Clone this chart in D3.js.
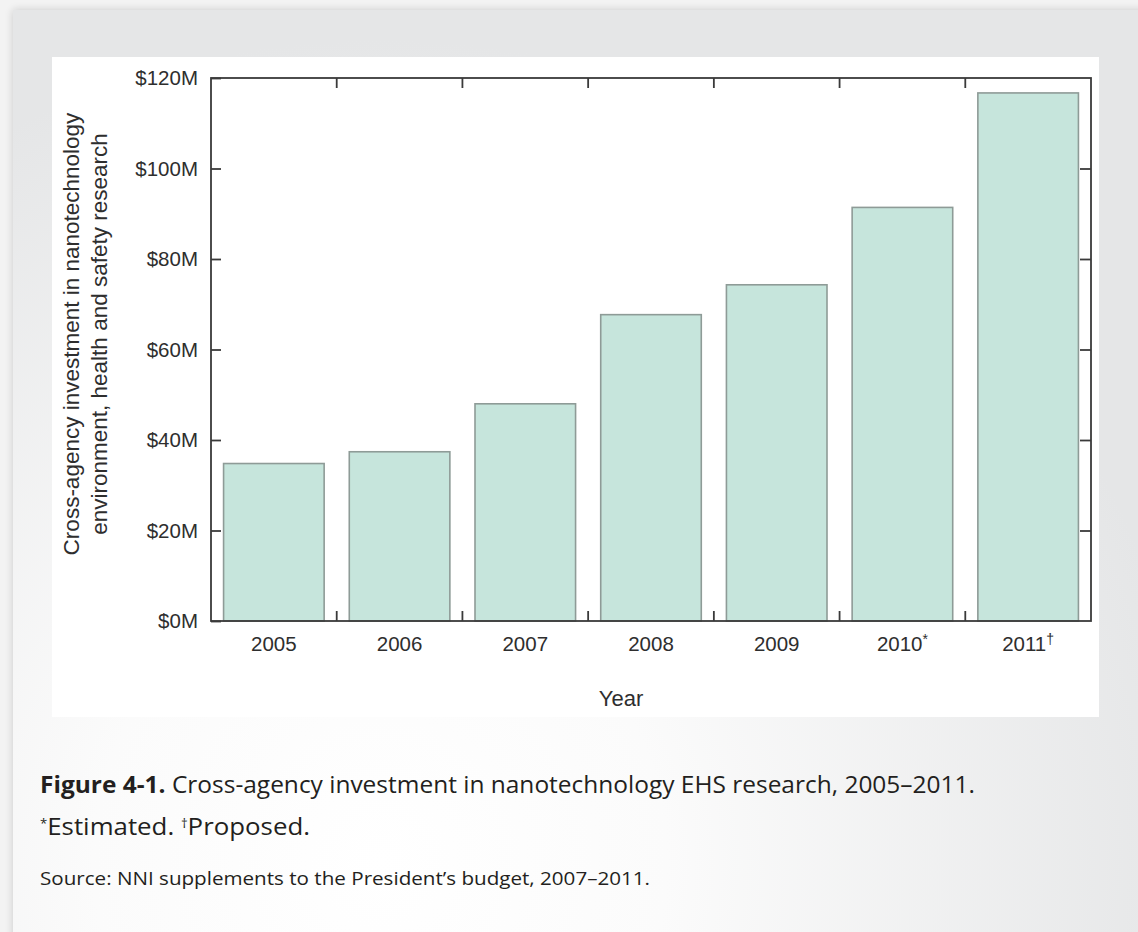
<!DOCTYPE html>
<html>
<head>
<meta charset="utf-8">
<script src="https://cdn.jsdelivr.net/npm/d3@7"></script>
<style>
  html, body { margin: 0; padding: 0; background: #f3f3f3; }
  svg { display: block; }
</style>
</head>
<body>
<svg id="chart" width="1138" height="932"></svg>
<script>
// ---- data ----
const years = ["2005", "2006", "2007", "2008", "2009", "2010", "2011"];
const yearMarks = ["", "", "", "", "", "*", "†"];
const investment = [34.8, 37.4, 48.0, 67.7, 74.3, 91.4, 116.7]; // $M
const yTicks = [0, 20, 40, 60, 80, 100, 120];
const yTitleLines = ["Cross-agency investment in nanotechnology", "environment, health and safety research"];
const xTitle = "Year";
const captionBold = "Figure 4-1.";
const captionText = " Cross-agency investment in nanotechnology EHS research, 2005–2011.";
const noteText = ["*", "Estimated. ", "†", "Proposed."];
const sourceText = "Source: NNI supplements to the President’s budget, 2007–2011.";

(function () {
const svg = d3.select("#chart");
const defs = svg.append("defs");

const rg = defs.append("radialGradient").attr("id", "cardGrad")
  .attr("gradientUnits", "userSpaceOnUse")
  .attr("cx", 380).attr("cy", 860).attr("r", 820);
rg.append("stop").attr("offset", "0").attr("stop-color", "#ffffff");
rg.append("stop").attr("offset", "0.35").attr("stop-color", "#fbfbfb");
rg.append("stop").attr("offset", "1").attr("stop-color", "#e5e6e7");

const sh = defs.append("filter").attr("id", "shadow").attr("x", "-5%").attr("y", "-5%").attr("width", "110%").attr("height", "110%");
sh.append("feGaussianBlur").attr("in", "SourceAlpha").attr("stdDeviation", 4);
sh.append("feComponentTransfer").append("feFuncA").attr("type", "linear").attr("slope", 0.18);
const mg = sh.append("feMerge");
mg.append("feMergeNode");
mg.append("feMergeNode").attr("in", "SourceGraphic");

// card
svg.append("rect").attr("x", 13).attr("y", 10).attr("width", 1160).attr("height", 960)
  .attr("fill", "url(#cardGrad)").attr("filter", "url(#shadow)");
// white chart panel
svg.append("rect").attr("x", 52).attr("y", 57).attr("width", 1047).attr("height", 660).attr("fill", "#ffffff");

// ---- scales ----
const pLeft = 211, pRight = 1091, pTop = 78, pBottom = 621;
const x = d3.scaleBand().domain(years).range([pLeft, pRight]).paddingInner(0.2).paddingOuter(0.1);
const y = d3.scaleLinear().domain([0, 120]).range([pBottom, pTop]);

const axisFont = "'Liberation Sans', Arial, Helvetica, sans-serif";
const frameColor = "#3a3a3a";
const textColor = "#2e2e2e";

// bars
svg.append("g").selectAll("rect").data(investment).join("rect")
  .attr("x", (d, i) => x(years[i]))
  .attr("y", d => y(d))
  .attr("width", x.bandwidth())
  .attr("height", d => y(0) - y(d))
  .attr("fill", "#c6e5dc")
  .attr("stroke", "#8e9b97")
  .attr("stroke-width", 1.6);

// frame
svg.append("rect").attr("x", pLeft).attr("y", pTop).attr("width", pRight - pLeft).attr("height", pBottom - pTop)
  .attr("fill", "none").attr("stroke", frameColor).attr("stroke-width", 1.8);

// left axis (ticks inward)
const yAxisL = d3.axisLeft(y).tickValues(yTicks).tickSize(-10).tickPadding(13).tickFormat(d => "$" + d + "M");
const gL = svg.append("g").attr("transform", `translate(${pLeft},0)`).call(yAxisL);
gL.select(".domain").remove();
gL.selectAll(".tick line").attr("stroke", frameColor).attr("stroke-width", 1.8);
gL.selectAll(".tick text").attr("font-family", axisFont).attr("font-size", 20.5).attr("fill", textColor);

// right axis ticks (inward)
const yAxisR = d3.axisRight(y).tickValues(yTicks.slice(1, -1)).tickSize(-11).tickFormat("");
const gR = svg.append("g").attr("transform", `translate(${pRight},0)`).call(yAxisR);
gR.select(".domain").remove();
gR.selectAll(".tick line").attr("stroke", frameColor).attr("stroke-width", 1.8);

// category boundary ticks (top and bottom, inward)
const bounds = years.slice(1).map(d => x(d) - x.step() * x.paddingInner() / 2);
svg.append("g").selectAll("line").data(bounds).join("line")
  .attr("x1", d => d).attr("x2", d => d).attr("y1", pTop).attr("y2", pTop + 10)
  .attr("stroke", frameColor).attr("stroke-width", 1.8);
svg.append("g").selectAll("line").data(bounds).join("line")
  .attr("x1", d => d).attr("x2", d => d).attr("y1", pBottom).attr("y2", pBottom - 10)
  .attr("stroke", frameColor).attr("stroke-width", 1.8);

// x labels
const xl = svg.append("g").selectAll("text").data(years).join("text")
  .attr("x", d => x(d) + x.bandwidth() / 2)
  .attr("y", 651)
  .attr("text-anchor", "middle")
  .attr("font-family", axisFont).attr("font-size", 20.5).attr("fill", textColor);
xl.append("tspan").text(d => d);
xl.append("tspan").text((d, i) => yearMarks[i])
  .attr("font-size", 14).attr("dy", (d, i) => yearMarks[i] ? -7 : 0);

// x title
svg.append("text").attr("x", 621).attr("y", 706).attr("text-anchor", "middle")
  .attr("font-family", axisFont).attr("font-size", 22).attr("fill", textColor).text(xTitle);

// y title
const yt = svg.append("text").attr("transform", "translate(79,334) rotate(-90)")
  .attr("text-anchor", "middle").attr("font-family", axisFont).attr("font-size", 22.5).attr("fill", textColor);
yTitleLines.forEach((t, i) => {
  yt.append("tspan").attr("x", 0).attr("dy", i === 0 ? 0 : 28).text(t);
});

// captions
const capFont = "'Open Sans', 'Noto Sans', sans-serif";
const c1 = svg.append("text").attr("x", 40).attr("y", 793)
  .attr("font-family", capFont).attr("font-size", 23.5).attr("fill", "#231f20")
  .attr("textLength", 935).attr("lengthAdjust", "spacingAndGlyphs");
c1.append("tspan").attr("font-weight", "bold").text(captionBold);
c1.append("tspan").text(captionText);

const c2 = svg.append("text").attr("x", 40).attr("y", 835)
  .attr("font-family", capFont).attr("font-size", 23.5).attr("fill", "#231f20")
  .attr("textLength", 270).attr("lengthAdjust", "spacingAndGlyphs");
noteText.forEach(t => {
  const sup = (t === "*" || t === "†");
  c2.append("tspan").text(t).attr("font-size", sup ? 12 : 23.5).attr("baseline-shift", sup ? "55%" : null);
});

svg.append("text").attr("x", 40).attr("y", 885)
  .attr("font-family", capFont).attr("font-size", 18).attr("fill", "#231f20")
  .attr("textLength", 610).attr("lengthAdjust", "spacingAndGlyphs")
  .text(sourceText);
})();
</script>
</body>
</html>
